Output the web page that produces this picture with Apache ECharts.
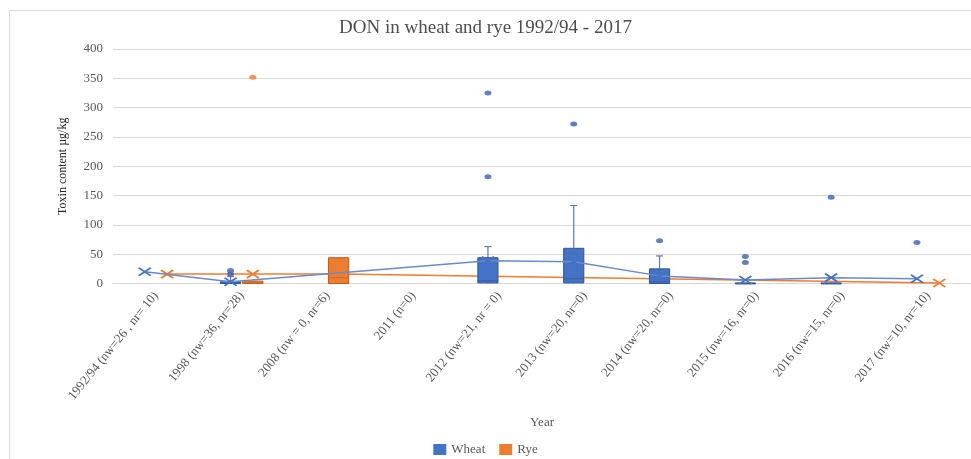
<!DOCTYPE html>
<html>
<head>
<meta charset="utf-8">
<title>DON in wheat and rye</title>
<script src="https://cdn.jsdelivr.net/npm/echarts@6/dist/echarts.min.js"></script>
<style>
  html, body { margin: 0; padding: 0; background: #fff; }
  #chart { width: 971px; height: 459px; }
</style>
</head>
<body>
<div id="chart"></div>
<script>
// Sampling years with number of wheat (nw) and rye (nr) samples
const categories = [
  '1992/94 (nw=26 , nr= 10)', '1998 (nw=36, nr=28)', '2008 (nw = 0, nr=6)', '2011 (n=0)',
  '2012 (nw=21, nr = 0)', '2013 (nw=20, nr=0)', '2014 (nw=20, nr=0)', '2015 (nw=16, nr=0)',
  '2016 (nw=15, nr=0)', '2017 (nw=10, nr=10)'
];

// Box statistics per year: [min, Q1, median, Q3, max] (null = no box)
const wheatBoxes = [
  null, [0, 0, 1, 3, 12], null, null,
  [0, 1, 5, 44, 63], [0, 1, 8, 60, 133], [0, 0, 3, 25, 47],
  [0, 0, 0, 1, 1], [0, 0, 0, 1, 1], null
];
const ryeBoxes = [
  null, [0, 0, 1, 4, 4], [0, 0, 10, 44, 44], null,
  null, null, null, null, null, null
];

// Mean values (shown as X markers joined by a line)
const wheatMeans = [20, 3, null, null, 39, 37, 13, 6, 10, 8];
const ryeMeans = [16, 16, 16, null, null, null, null, null, null, 1];

// Outliers: [year index, value]
const wheatOutliers = [
  [1, 22], [1, 16], [4, 325], [4, 182], [5, 272], [6, 73],
  [7, 46], [7, 36], [8, 147], [9, 70]
];
const ryeOutliers = [[1, 352]];

const yTicks = { min: 0, max: 400, interval: 50 };

const WHEAT = '#4472C4';
const RYE = '#ED7D31';
const SHIFT = 0.13;      // offset of each group from the category centre
const BOX_W = 0.235;     // box width in category units
const FONT = 'Liberation Serif';

function boxData(boxes, shift) {
  const out = [];
  boxes.forEach((b, i) => { if (b) out.push([i + shift].concat(b)); });
  return out;
}
function meanData(means, shift) {
  const out = [];
  means.forEach((m, i) => { if (m !== null) out.push([i + shift, m]); });
  return out;
}
function outlierData(list, shift) {
  return list.map(p => [p[0] + shift, p[1]]);
}

function makeBoxRenderer(fill, stroke, whisker) {
  return function (params, api) {
    const x = api.value(0);
    const pMin = api.coord([x, api.value(1)]);
    const pQ1 = api.coord([x, api.value(2)]);
    const pMed = api.coord([x, api.value(3)]);
    const pQ3 = api.coord([x, api.value(4)]);
    const pMax = api.coord([x, api.value(5)]);
    const w = api.size([BOX_W, 0])[0];
    const cap = 7;
    const cx = pQ1[0];
    const children = [];
    // upper whisker
    if (pMax[1] < pQ3[1]) {
      children.push({ type: 'line', shape: { x1: cx, y1: pQ3[1], x2: cx, y2: pMax[1] },
        style: { stroke: whisker, lineWidth: 1.2 } });
      children.push({ type: 'line', shape: { x1: cx - cap / 2, y1: pMax[1], x2: cx + cap / 2, y2: pMax[1] },
        style: { stroke: whisker, lineWidth: 1.2 } });
    }
    // lower whisker
    if (pMin[1] > pQ1[1]) {
      children.push({ type: 'line', shape: { x1: cx, y1: pQ1[1], x2: cx, y2: pMin[1] },
        style: { stroke: whisker, lineWidth: 1.2 } });
    }
    // box
    children.push({ type: 'rect',
      shape: { x: cx - w / 2, y: pQ3[1], width: w, height: Math.max(pQ1[1] - pQ3[1], 1) },
      style: { fill: fill, stroke: stroke, lineWidth: 1 } });
    // median
    children.push({ type: 'line', shape: { x1: cx - w / 2, y1: pMed[1], x2: cx + w / 2, y2: pMed[1] },
      style: { stroke: stroke, lineWidth: 1, opacity: 0.6 } });
    return { type: 'group', children: children };
  };
}

const crossSymbol = 'path://M0,0L12,8M12,0L0,8';

const chart = echarts.init(document.getElementById('chart'), null, { renderer: 'canvas' });

chart.setOption({
  animation: false,
  backgroundColor: '#ffffff',
  textStyle: { fontFamily: FONT },
  graphic: [{
    type: 'rect', left: 7, top: 8, silent: true, z: -10,
    shape: { width: 980, height: 470 },
    style: { fill: 'none', stroke: '#d9d9d9', lineWidth: 1 }
  }],
  title: {
    text: 'DON in wheat and rye 1992/94 - 2017',
    left: 'center', top: 14,
    textStyle: { fontFamily: FONT, fontSize: 19, fontWeight: 'normal', color: '#4d4d4d' }
  },
  legend: {
    bottom: -2, left: 'center',
    itemWidth: 13, itemHeight: 11, itemGap: 14,
    textStyle: { fontFamily: FONT, fontSize: 13, color: '#595959' },
    data: [
      { name: 'Wheat', icon: 'rect', itemStyle: { color: WHEAT, borderWidth: 0 } },
      { name: 'Rye', icon: 'rect', itemStyle: { color: RYE, borderWidth: 0 } }
    ]
  },
  grid: { left: 113, top: 49, width: 860, height: 234.5, containLabel: false },
  xAxis: [{
    type: 'category',
    data: categories,
    boundaryGap: true,
    name: 'Year',
    nameLocation: 'middle',
    nameGap: 133,
    nameTextStyle: { fontFamily: FONT, fontSize: 13, color: '#595959' },
    axisLine: { lineStyle: { color: '#d9d9d9' } },
    axisTick: { show: false },
    axisLabel: { interval: 0, rotate: 51, margin: 10, fontFamily: FONT, fontSize: 13, color: '#595959' },
    splitLine: { show: false }
  }, {
    type: 'value', show: false, min: -0.5, max: 9.5
  }],
  yAxis: {
    type: 'value',
    min: yTicks.min, max: yTicks.max, interval: yTicks.interval,
    name: 'Toxin content µg/kg',
    nameLocation: 'middle',
    nameGap: 44,
    nameRotate: 90,
    nameTextStyle: { fontFamily: FONT, fontSize: 12, color: '#262626' },
    axisLine: { show: false },
    axisTick: { show: false },
    axisLabel: { margin: 10, fontFamily: FONT, fontSize: 13, color: '#595959' },
    splitLine: { lineStyle: { color: '#d9d9d9', width: 1 } }
  },
  series: [
    {
      name: 'Rye', type: 'line', xAxisIndex: 1, z: 2,
      data: meanData(ryeMeans, SHIFT),
      symbol: crossSymbol, symbolSize: [12, 8],
      lineStyle: { color: RYE, width: 1.5 },
      itemStyle: { color: 'none', borderColor: RYE, borderWidth: 1.8 }
    },
    {
      name: 'Wheat', type: 'custom', xAxisIndex: 1, z: 3,
      renderItem: makeBoxRenderer(WHEAT, '#2F5597', '#6478A6'),
      encode: { x: 0, y: [1, 2, 3, 4, 5] },
      data: boxData(wheatBoxes, -SHIFT)
    },
    {
      name: 'Rye', type: 'custom', xAxisIndex: 1, z: 3,
      renderItem: makeBoxRenderer(RYE, '#C55A11', '#B0805E'),
      encode: { x: 0, y: [1, 2, 3, 4, 5] },
      data: boxData(ryeBoxes, SHIFT)
    },
    {
      name: 'Wheat', type: 'line', xAxisIndex: 1, z: 4,
      data: meanData(wheatMeans, -SHIFT),
      symbol: crossSymbol, symbolSize: [12, 8],
      lineStyle: { color: '#6A8AC8', width: 1.5 },
      itemStyle: { color: 'none', borderColor: WHEAT, borderWidth: 1.8 }
    },
    {
      name: 'Wheat', type: 'scatter', xAxisIndex: 1, z: 5,
      data: outlierData(wheatOutliers, -SHIFT),
      symbol: 'circle', symbolSize: [7, 5],
      itemStyle: { color: '#3A62AE' }
    },
    {
      name: 'Rye', type: 'scatter', xAxisIndex: 1, z: 5,
      data: outlierData(ryeOutliers, SHIFT),
      symbol: 'circle', symbolSize: [7, 5],
      itemStyle: { color: RYE }
    }
  ]
});
</script>
</body>
</html>
